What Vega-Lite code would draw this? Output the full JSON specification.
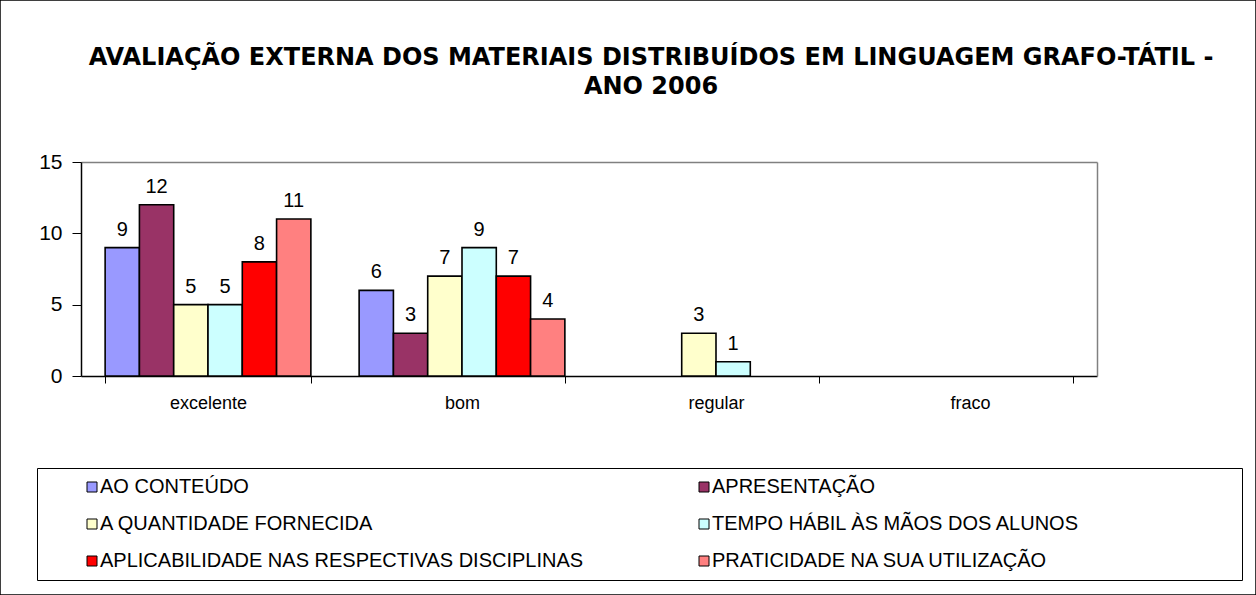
{
  "$schema": "https://vega.github.io/schema/vega-lite/v6.json",
  "width": 1256,
  "height": 595,
  "autosize": "none",
  "padding": 0,
  "background": "white",
  "config": {
    "view": {"stroke": "black", "strokeWidth": 1.5},
    "font": "Liberation Sans"
  },
  "title": {
    "text": ["AVALIAÇÃO EXTERNA DOS MATERIAIS DISTRIBUÍDOS EM LINGUAGEM GRAFO-TÁTIL -", "ANO 2006"],
    "font": "DejaVu Sans",
    "fontSize": 24,
    "fontWeight": "bold",
    "color": "black",
    "lineHeight": 29,
    "anchor": "middle",
    "frame": "group",
    "dx": 23,
    "offset": -99
  },
  "data": {
    "values": [
      {"avaliacao": "excelente", "serie": "AO CONTEÚDO", "valor": 9},
      {"avaliacao": "excelente", "serie": "APRESENTAÇÃO", "valor": 12},
      {"avaliacao": "excelente", "serie": "A QUANTIDADE FORNECIDA", "valor": 5},
      {"avaliacao": "excelente", "serie": "TEMPO HÁBIL ÀS MÃOS DOS ALUNOS", "valor": 5},
      {"avaliacao": "excelente", "serie": "APLICABILIDADE NAS RESPECTIVAS DISCIPLINAS", "valor": 8},
      {"avaliacao": "excelente", "serie": "PRATICIDADE NA SUA UTILIZAÇÃO", "valor": 11},
      {"avaliacao": "bom", "serie": "AO CONTEÚDO", "valor": 6},
      {"avaliacao": "bom", "serie": "APRESENTAÇÃO", "valor": 3},
      {"avaliacao": "bom", "serie": "A QUANTIDADE FORNECIDA", "valor": 7},
      {"avaliacao": "bom", "serie": "TEMPO HÁBIL ÀS MÃOS DOS ALUNOS", "valor": 9},
      {"avaliacao": "bom", "serie": "APLICABILIDADE NAS RESPECTIVAS DISCIPLINAS", "valor": 7},
      {"avaliacao": "bom", "serie": "PRATICIDADE NA SUA UTILIZAÇÃO", "valor": 4},
      {"avaliacao": "regular", "serie": "A QUANTIDADE FORNECIDA", "valor": 3},
      {"avaliacao": "regular", "serie": "TEMPO HÁBIL ÀS MÃOS DOS ALUNOS", "valor": 1}
    ]
  },
  "encoding": {
    "x": {
      "field": "avaliacao",
      "type": "nominal",
      "sort": null,
      "scale": {"domain": ["excelente", "bom", "regular", "fraco"], "range": [81, 1097], "paddingInner": 0.19, "paddingOuter": 0.095},
      "axis": null
    },
    "xOffset": {
      "field": "serie",
      "type": "nominal",
      "sort": null,
      "scale": {"domain": ["AO CONTEÚDO", "APRESENTAÇÃO", "A QUANTIDADE FORNECIDA", "TEMPO HÁBIL ÀS MÃOS DOS ALUNOS", "APLICABILIDADE NAS RESPECTIVAS DISCIPLINAS", "PRATICIDADE NA SUA UTILIZAÇÃO"], "paddingInner": 0, "paddingOuter": 0}
    },
    "y": {
      "field": "valor",
      "type": "quantitative",
      "scale": {"domain": [0, 15], "range": [376, 162], "nice": false, "zero": true},
      "axis": null
    }
  },
  "layer": [
    {
      "mark": {"type": "bar", "stroke": "black", "strokeWidth": 1.6, "opacity": 1},
      "encoding": {
        "color": {
          "field": "serie",
          "type": "nominal",
          "sort": null,
          "scale": {
            "domain": ["AO CONTEÚDO", "A QUANTIDADE FORNECIDA", "APLICABILIDADE NAS RESPECTIVAS DISCIPLINAS", "APRESENTAÇÃO", "TEMPO HÁBIL ÀS MÃOS DOS ALUNOS", "PRATICIDADE NA SUA UTILIZAÇÃO"],
            "range": ["#9999FF", "#FFFFCC", "#FF0000", "#993366", "#CCFFFF", "#FF8080"]
          },
          "legend": {
            "title": " ",
            "titleOrient": "right",
            "titlePadding": 153,
            "titleFontSize": 10,
            "orient": "none",
            "legendX": 37,
            "legendY": 468,
            "columns": 2,
            "gridAlign": "all",
            "columnPadding": 74,
            "rowPadding": 17,
            "padding": 9,
            "strokeColor": "black",
            "symbolType": "square",
            "symbolSize": 100,
            "symbolOffset": 36,
            "symbolStrokeColor": "black",
            "symbolStrokeWidth": 1,
            "symbolOpacity": 1,
            "labelFont": "Liberation Sans",
            "labelFontSize": 20,
            "labelColor": "black",
            "labelLimit": 800,
            "labelOffset": -2
          }
        }
      }
    },
    {
      "mark": {"type": "text", "baseline": "alphabetic", "dy": -12, "fontSize": 20, "font": "Liberation Sans", "color": "black"},
      "encoding": {"text": {"field": "valor", "type": "quantitative"}}
    },
    {
      "mark": {"type": "rule", "opacity": 0},
      "encoding": {
        "x": {
          "field": "avaliacao", "type": "nominal", "sort": null,
          "axis": {"orient": "bottom", "offset": -219, "title": null, "tickBand": "extent", "domainColor": "black", "domainWidth": 1.5, "tickColor": "black", "tickWidth": 1, "tickSize": 7, "labelFontSize": 18, "labelColor": "black", "labelPadding": 11, "labelAngle": 0, "labelFont": "Liberation Sans"}
        },
        "xOffset": null,
        "y": {
          "field": "valor", "type": "quantitative",
          "axis": {"orient": "left", "offset": -81, "title": null, "values": [0, 5, 10, 15], "domainColor": "black", "domainWidth": 1.5, "tickColor": "black", "tickWidth": 1, "tickSize": 9, "labelFontSize": 21, "labelColor": "black", "labelPadding": 10, "labelFont": "Liberation Sans", "grid": false}
        }
      }
    },
    {
      "mark": {"type": "rule", "opacity": 0},
      "encoding": {
        "x": {
          "field": "avaliacao", "type": "nominal", "sort": null,
          "axis": {"orient": "top", "offset": -162, "title": null, "labels": false, "ticks": false, "domainColor": "#808080", "domainWidth": 1.5}
        },
        "xOffset": null,
        "y": {
          "field": "valor", "type": "quantitative",
          "axis": {"orient": "right", "offset": -159, "title": null, "labels": false, "ticks": false, "domainColor": "#808080", "domainWidth": 1.5, "grid": false}
        }
      }
    }
  ],
  "resolve": {"axis": {"x": "independent", "y": "independent"}}
}
